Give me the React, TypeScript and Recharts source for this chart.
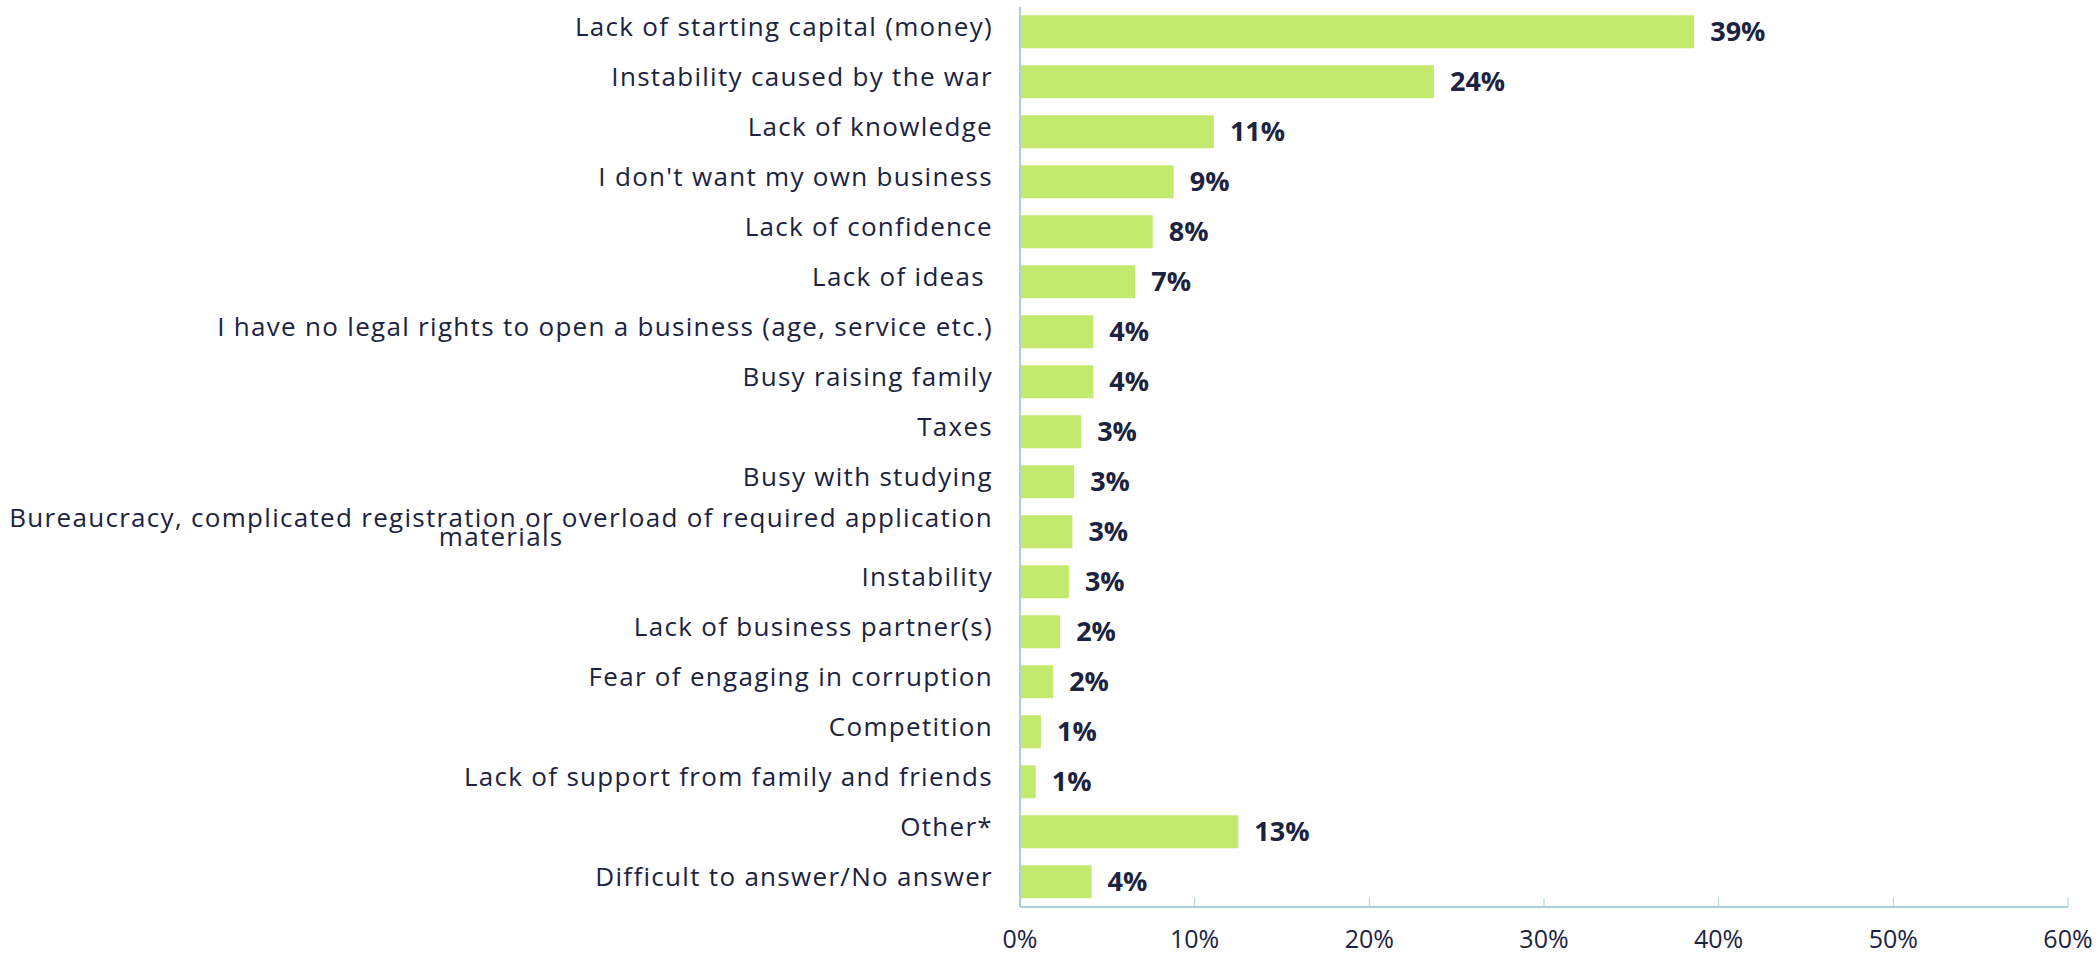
import React, { useLayoutEffect, useRef, useState } from "react";
import { BarChart, Bar, XAxis, YAxis, LabelList } from "recharts";

const categories = [
  "Lack of starting capital (money)",
  "Instability caused by the war",
  "Lack of knowledge",
  "I don't want my own business",
  "Lack of confidence",
  "Lack of ideas ",
  "I have no legal rights to open a business (age, service etc.)",
  "Busy raising family",
  "Taxes",
  "Busy with studying",
  "Bureaucracy, complicated registration or overload of required application\nmaterials",
  "Instability",
  "Lack of business partner(s)",
  "Fear of engaging in corruption",
  "Competition",
  "Lack of support from family and friends",
  "Other*",
  "Difficult to answer/No answer",
];

const values = [38.6, 23.7, 11.1, 8.8, 7.6, 6.6, 4.2, 4.2, 3.5, 3.1, 3.0, 2.8, 2.3, 1.9, 1.2, 0.9, 12.5, 4.1];

const valueLabels = ["39%", "24%", "11%", "9%", "8%", "7%", "4%", "4%", "3%", "3%", "3%", "3%", "2%", "2%", "1%", "1%", "13%", "4%"];

const xTicks = [0, 10, 20, 30, 40, 50, 60];

const data = categories.map((c, i) => ({ name: c, value: values[i], label: valueLabels[i] }));

const FONT = "'Open Sans', sans-serif";
const TEXT = "#1b2340";
const AXIS = "#a9d2d6";
const BAR = "#c4ea6d";
const CAT_SIZE = 26;
const CAT_SPACING = 1.3;

const CategoryTick = (props: any) => {
  const { x, y, payload } = props;
  const lines = String(payload.value).split("\n");
  const ref = useRef<SVGTSpanElement>(null);
  const [w, setW] = useState(0);
  useLayoutEffect(() => {
    if (ref.current) setW(ref.current.getComputedTextLength());
  }, [payload.value]);
  const style: any = { whiteSpace: "pre", letterSpacing: CAT_SPACING };
  if (lines.length === 1) {
    return (
      <text x={x} y={y + 4} textAnchor="end" fontFamily={FONT} fontSize={CAT_SIZE} fill={TEXT} style={style}>
        {lines[0]}
      </text>
    );
  }
  return (
    <text fontFamily={FONT} fontSize={CAT_SIZE} fill={TEXT} style={style}>
      <tspan ref={ref} x={x} y={y - 5} textAnchor="end">
        {lines[0]}
      </tspan>
      <tspan x={x - w / 2} y={y + 14} textAnchor="middle">
        {lines[1]}
      </tspan>
    </text>
  );
};

const XTick = (props: any) => {
  const { x, y, payload } = props;
  return (
    <g>
      <line x1={x} x2={x} y1={y} y2={y - 9} stroke={AXIS} strokeWidth={1} />
      <text x={x} y={y + 41} textAnchor="middle" fontFamily={FONT} fontSize={25} fill={TEXT}>
        {`${payload.value}%`}
      </text>
    </g>
  );
};

export default function App() {
  return (
    <div style={{ position: "absolute", left: 0, top: 0, width: 2100, height: 955, background: "#fff" }}>
      <BarChart
        width={2100}
        height={955}
        data={data}
        layout="vertical"
        margin={{ top: 7, right: 32, bottom: 0, left: 0 }}
        barCategoryGap="16.7%"
      >
        <XAxis
          type="number"
          domain={[0, 60]}
          ticks={xTicks}
          interval={0}
          axisLine={{ stroke: AXIS, strokeWidth: 2 }}
          tickLine={false}
          tickSize={0}
          tickMargin={0}
          tick={<XTick />}
          height={48}
        />
        <YAxis
          type="category"
          dataKey="name"
          width={1020}
          axisLine={{ stroke: AXIS, strokeWidth: 2 }}
          tickLine={false}
          tickSize={0}
          tickMargin={27}
          interval={0}
          tick={<CategoryTick />}
        />
        <Bar dataKey="value" fill={BAR} isAnimationActive={false}>
          <LabelList
            dataKey="label"
            position="right"
            offset={16}
            fontFamily={FONT}
            fontSize={27}
            fontWeight={700}
            fill={TEXT}
          />
        </Bar>
      </BarChart>
    </div>
  );
}
